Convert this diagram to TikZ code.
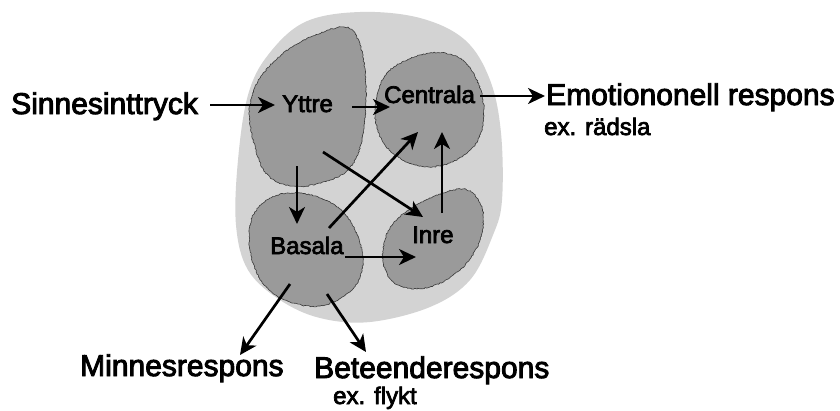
\documentclass[tikz,border=0pt]{standalone}
\usepackage{fontspec}
\setmainfont{Liberation Sans}
\newfontfamily\heavyfont{Liberation Sans}[FakeBold=3]
\usetikzlibrary{arrows.meta,decorations.pathmorphing}
\definecolor{outerfill}{HTML}{D3D3D3}
\definecolor{innerfill}{HTML}{9A9A9A}
\definecolor{blobedge}{HTML}{3A3A3A}
\tikzset{
  outerblob/.style={fill=outerfill, draw=none},
  innerblob/.style={fill=innerfill, draw=blobedge, line width=0.6pt,
    decorate, decoration={random steps, segment length=1.5pt, amplitude=0.6pt}},
  arr/.style={line width=2.7pt, -{Stealth[length=17pt,width=16pt,inset=5pt]}},
  bigtxt/.style={font=\heavyfont\fontsize{30}{33}\selectfont, inner sep=0pt, anchor=base west},
  midtxt/.style={font=\heavyfont\fontsize{24}{27}\selectfont, inner sep=0pt, anchor=base west},
  smalltxt/.style={font=\heavyfont\fontsize{24}{27}\selectfont, inner sep=0pt, anchor=base west}
}
\begin{document}
\begin{tikzpicture}[x=1pt,y=-1pt]
\useasboundingbox[fill=white] (0,0) rectangle (840,410);
% outer blob
\fill[outerblob] plot[smooth cycle, tension=0.6] coordinates {
 (360,12) (420,18) (465,40) (490,80) (501,133) (502,200) (493,235) (470,280)
 (430,307) (370,322) (320,318) (280,300) (248,270) (236,225) (238,160)
 (248,95) (268,55) (305,22)};
% Yttre
\filldraw[innerblob] plot[smooth cycle, tension=0.6] coordinates {
 (343,27) (360,45) (366,90) (362,140) (348,170) (320,183) (290,186) (265,172)
 (252,135) (250,105) (262,75) (295,45)};
% Centrala
\filldraw[innerblob] plot[smooth cycle, tension=0.6] coordinates {
 (430,53) (465,62) (483,100) (478,140) (450,163) (415,165) (385,145) (375,110) (388,72)};
% Basala
\filldraw[innerblob] plot[smooth cycle, tension=0.6] coordinates {
 (300,193) (335,205) (355,230) (363,262) (352,290) (320,306) (285,300)
 (262,282) (250,250) (252,218) (270,198)};
% Inre
\filldraw[innerblob] plot[smooth cycle, tension=0.6] coordinates {
 (463,189) (482,208) (480,240) (462,268) (430,287) (398,285) (383,262)
 (390,228) (420,203)};

% labels
\node[bigtxt] (sin) at (11,114) {Sinnesinttryck};
\node[midtxt] (ytt) at (282,112) {Yttre};
\node[midtxt] (cen) at (384,103) {Centrala};
\node[midtxt] (bas) at (270,254) {Basala};
\node[midtxt] (inr) at (412,243) {Inre};
\node[bigtxt] (emo) at (546,105) {Emotiononell respons};
\node[smalltxt] (rad) at (544,135) {ex. rädsla};
\node[bigtxt] (min) at (80,376) {Minnesrespons};
\node[bigtxt] (bet) at (314,378) {Beteenderespons};
\node[smalltxt] (fly) at (333,404) {ex. flykt};

% connector end points
\coordinate (sinE) at (210,105);
\coordinate (yttW) at (275,105);
\coordinate (yttE) at (352,107);
\coordinate (cenW) at (390,107);
\coordinate (cenE) at (480,96);
\coordinate (emoW) at (545,96);
\coordinate (yttS) at (297,166);
\coordinate (basN) at (297,224);
\coordinate (yttSE) at (323,152);
\coordinate (inrNW) at (423,217);
\coordinate (basNE) at (329,228);
\coordinate (cenSW) at (418,132);
\coordinate (inrN) at (442,213);
\coordinate (cenS) at (442,132);
\coordinate (basE) at (345,257);
\coordinate (inrW) at (416,257);
\coordinate (basSW) at (290,284);
\coordinate (minN) at (240,355);
\coordinate (basSE) at (327,294);
\coordinate (betN) at (366,352);

\draw[arr] (sinE) -- (yttW);
\draw[arr] (yttE) -- (cenW);
\draw[arr] (cenE) -- (emoW);
\draw[arr] (yttS) -- (basN);
\draw[arr] (yttSE) -- (inrNW);
\draw[arr] (basNE) -- (cenSW);
\draw[arr] (inrN) -- (cenS);
\draw[arr] (basE) -- (inrW);
\draw[arr] (basSW) -- (minN);
\draw[arr] (basSE) -- (betN);
\end{tikzpicture}
\end{document}
